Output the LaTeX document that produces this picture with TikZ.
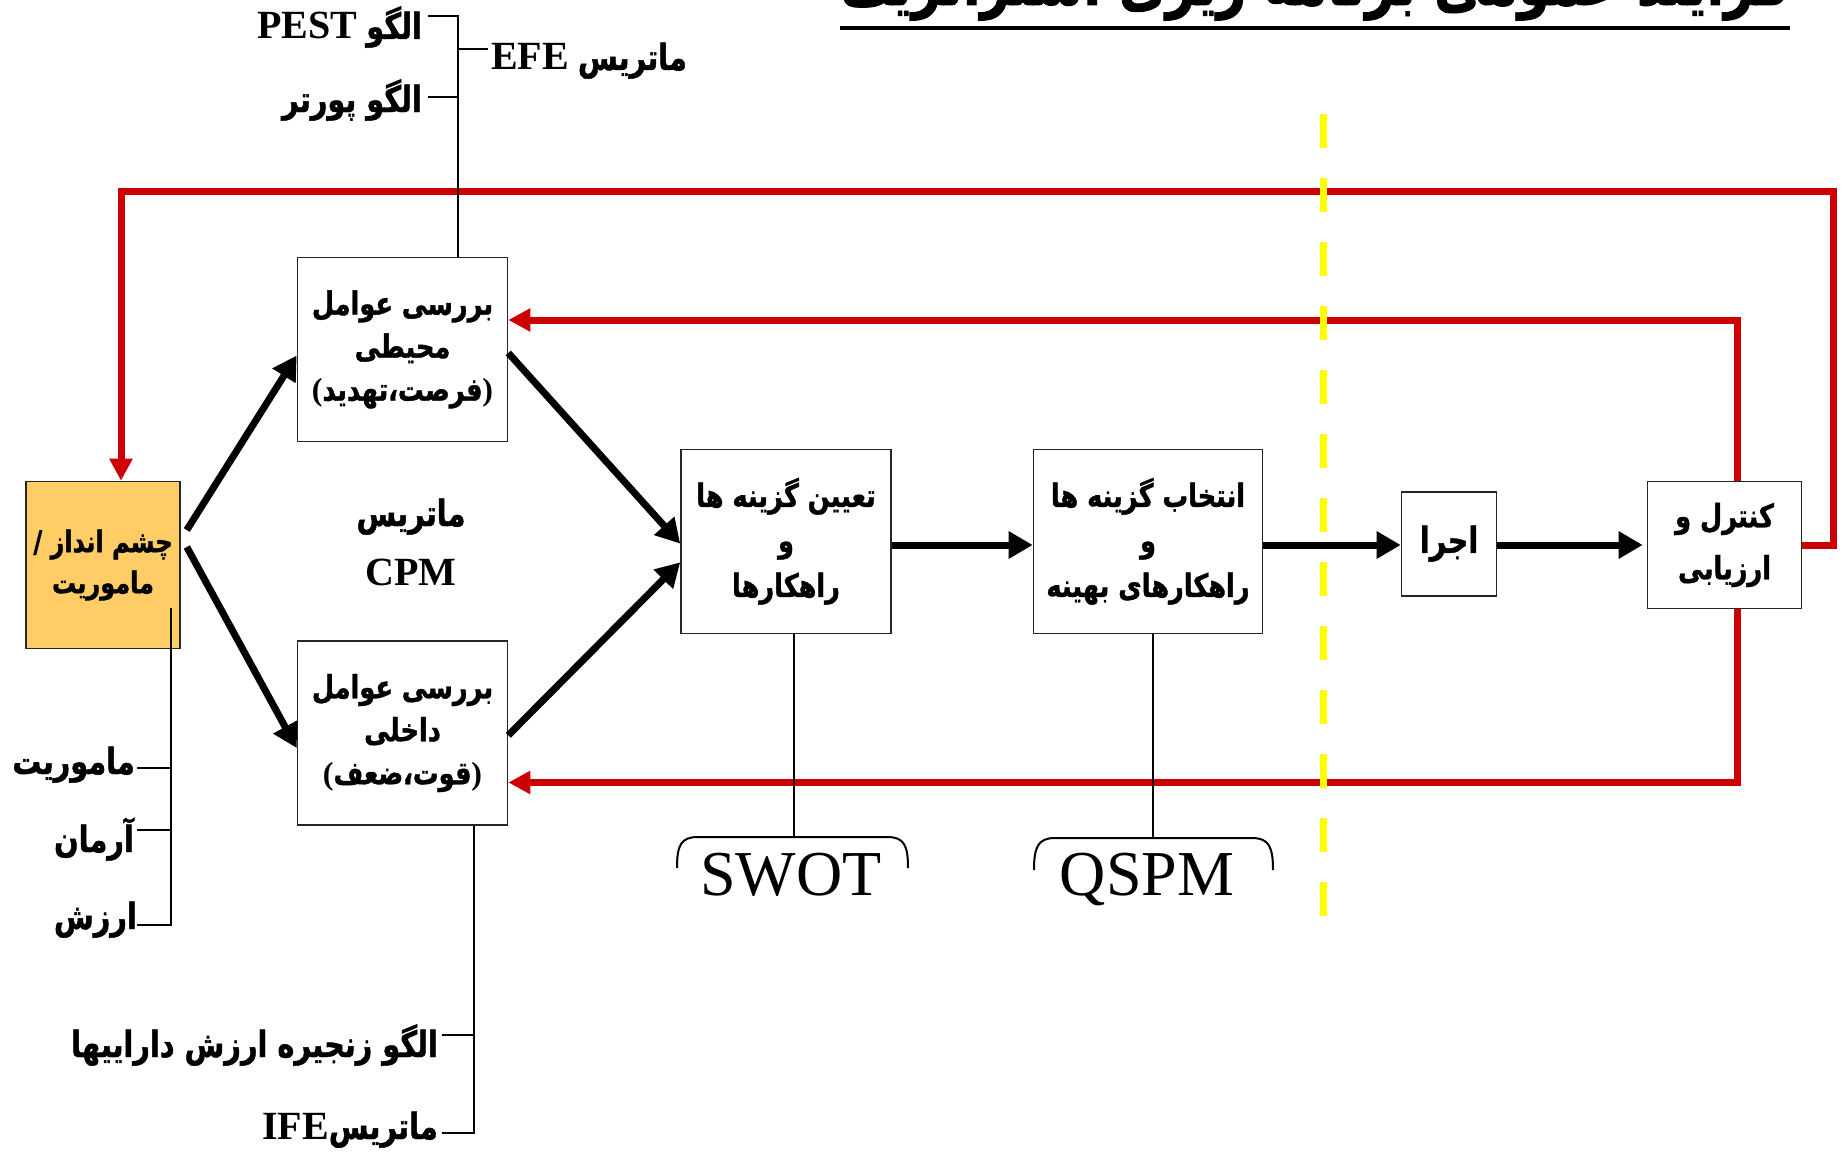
\documentclass[tikz,border=0pt]{standalone}
\usepackage{fontspec}
\setmainfont{Liberation Serif}
\newfontfamily\arabicfont[Script=Arabic, FakeStretch=0.8, BoldFeatures={FakeBold=1.2}]{DejaVu Sans}
\TeXXeTstate=1
\usetikzlibrary{arrows.meta}
\definecolor{redc}{HTML}{CC0000}
\definecolor{orfill}{HTML}{FFCC66}
\definecolor{yel}{HTML}{FFFF00}
\newcommand{\fatext}[1]{{\arabicfont\beginR #1\endR}}
\newcommand{\latbig}[1]{{\fontsize{40pt}{44pt}\selectfont\bfseries #1}}
\tikzset{
  box/.style={draw=black!85, line width=1.6pt, fill=white, align=center, inner sep=0pt,
    font=\fontsize{32pt}{43pt}\selectfont\bfseries},
  flowarrow/.style={line width=7pt, -{Triangle[length=24pt,width=26pt]}},
  redpath/.style={draw=redc, line width=7pt, line join=miter},
  redarrow/.style={redpath, -{Triangle[length=22pt,width=22pt]}},
  thinline/.style={line width=2pt},
  lbl/.style={inner sep=0pt, font=\fontsize{36pt}{40pt}\selectfont\bfseries},
  bigtext/.style={inner sep=0pt, font=\fontsize{64pt}{70pt}\selectfont},
}
\begin{document}
\begin{tikzpicture}[x=1pt,y=-1pt]
\fill[white] (0,0) rectangle (1845,1156);
\useasboundingbox (0,0) rectangle (1845,1156);

% title (cut off at the top edge, as in the reference)
\node[anchor=base, inner sep=0pt, font=\fontsize{64pt}{70pt}\selectfont\bfseries] (title) at (1315,5)
  {\fatext{فرایند عمومی برنامه ریزی استراتژیک}};
\coordinate (ulL) at (840,28);
\coordinate (ulR) at (1790,28);
\draw[line width=4pt] (ulL) -- (ulR);

% boxes
\node[box, fill=orfill, minimum width=154pt, minimum height=167pt, font=\fontsize{30pt}{41pt}\selectfont\bfseries] (vision) at (103,565)
  {\fatext{چشم انداز /}\\\fatext{ماموریت}};
\node[box, minimum width=210pt, minimum height=184pt] (env) at (402.5,349.5)
  {\fatext{بررسی عوامل}\\\fatext{محیطی}\\(\fatext{فرصت،تهدید})};
\node[box, minimum width=210pt, minimum height=184pt] (intr) at (402.5,733)
  {\fatext{بررسی عوامل}\\\fatext{داخلی}\\(\fatext{قوت،ضعف})};
\node[box, minimum width=210pt, minimum height=184pt, font=\fontsize{32pt}{45pt}\selectfont\bfseries] (tayin) at (786,541.3)
  {\fatext{تعیین گزینه ها}\\\fatext{و}\\\fatext{راهکارها}};
\node[box, minimum width=229pt, minimum height=184pt, font=\fontsize{32pt}{45pt}\selectfont\bfseries] (entekhab) at (1148,541.3)
  {\fatext{انتخاب گزینه ها}\\\fatext{و}\\\fatext{راهکارهای بهینه}};
\node[box, minimum width=95pt, minimum height=104pt, font=\fontsize{36pt}{43pt}\selectfont\bfseries] (ejra) at (1449,543.7)
  {\fatext{اجرا}};
\node[box, minimum width=154pt, minimum height=127pt, font=\fontsize{32pt}{52pt}\selectfont\bfseries] (control) at (1724.5,545)
  {\fatext{کنترل و}\\\fatext{ارزیابی}};

% CPM label
\node[lbl, anchor=base] (cpm1) at (411,526) {\fatext{ماتریس}};
\node[lbl, anchor=base] (cpm2) at (411,585) {\latbig{CPM}};

% red feedback loops
\coordinate (redO) at (1833,191);
\coordinate (redL) at (121,191);
\coordinate (redM) at (1737,320);
\coordinate (redB) at (1737,782.5);
\draw[redarrow] (control.east) -- (control.east -| redO) -- (redO) -- (redL) -- (redL |- vision.north);
\draw[redarrow] (redM |- control.north) -- (redM) -- (redM -| env.east);
\draw[redarrow] (redB |- control.south) -- (redB) -- (redB -| intr.east);

% yellow dashed divider
\coordinate (yTop) at (1323,114);
\coordinate (yBot) at (1323,916);
\draw[yel, line width=7pt, dash pattern=on 34pt off 30pt] (yTop) -- (yBot);

% black flow arrows
\coordinate (mid) at (0,545);
\draw[flowarrow] ([shift={(6,-35)}]vision.east) -- ([shift={(0,6)}]env.west);
\draw[flowarrow] ([shift={(6,-18)}]vision.east) -- ([shift={(0,15)}]intr.west);
\draw[flowarrow] ([shift={(0,3.5)}]env.east) -- ([shift={(0,2.3)}]tayin.west);
\draw[flowarrow] ([shift={(0,2.3)}]intr.east) -- ([shift={(0,21)}]tayin.west);
\draw[flowarrow] (tayin.east |- mid) -- (entekhab.west |- mid);
\draw[flowarrow] (entekhab.east |- mid) -- (ejra.west |- mid);
\draw[flowarrow] (ejra.east |- mid) -- ([xshift=-4pt]control.west |- mid);

% top bracket (EFE)
\coordinate (tb) at (458,16.5);
\coordinate (tbP) at (458,96.5);
\coordinate (tbE) at (458,49.5);
\draw[thinline] (env.north -| tb) -- (tb) -- ++(-30,0);
\draw[thinline] (tbP) -- ++(-30,0);
\draw[thinline] (tbE) -- ++(30,0);
\node[lbl, anchor=base east] (pest) at (422,39) {\latbig{PEST} \fatext{الگو}};
\node[lbl, anchor=base east] (porter) at (422,112) {\fatext{الگو پورتر}};
\node[lbl, anchor=base west] (efe) at (491,70) {\latbig{EFE} \fatext{ماتریس}};

% left bracket (vision items)
\coordinate (lvTop) at (170.6,608);
\coordinate (lvBot) at (170.6,925);
\coordinate (lv1) at (170.6,768);
\coordinate (lv2) at (170.6,830);
\draw[thinline] (lvTop) -- (lvBot) -- ++(-34,0);
\draw[thinline] (lv1) -- ++(-34,0);
\draw[thinline] (lv2) -- ++(-34,0);
\node[lbl, anchor=base east] (mam) at (135,774) {\fatext{ماموریت}};
\node[lbl, anchor=base east] (arman) at (134,852) {\fatext{آرمان}};
\node[lbl, anchor=base east] (arzesh) at (137,929) {\fatext{ارزش}};

% bottom bracket (internal items)
\coordinate (bvBot) at (474,1133);
\coordinate (bv1) at (474,1035);
\draw[thinline] (intr.south -| bvBot) -- (bvBot) -- ++(-32,0);
\draw[thinline] (bv1) -- ++(-32,0);
\node[lbl, anchor=base east] (chain) at (438,1057) {\fatext{الگو زنجیره ارزش داراییها}};
\node[lbl, anchor=base east] (ife) at (438,1139) {\latbig{IFE}\fatext{ماتریس}};

% SWOT bracket
\coordinate (swTop) at (794,837);
\draw[thinline] (tayin.south -| swTop) -- (swTop);
\draw[thinline] (677,868) .. controls (677,845) and (681,837) .. (698,837) -- (887,837)
  .. controls (904,837) and (908,845) .. (908,868);
\node[bigtext, anchor=base] (swot) at (791,895) {SWOT};

% QSPM bracket
\coordinate (qsTop) at (1153,838);
\draw[thinline] (entekhab.south -| qsTop) -- (qsTop);
\draw[thinline] (1034,870) .. controls (1034,847) and (1038,838) .. (1055,838) -- (1252,838)
  .. controls (1269,838) and (1273,847) .. (1273,870);
\node[bigtext, anchor=base] (qspm) at (1147,895) {QSPM};

\end{tikzpicture}
\end{document}
